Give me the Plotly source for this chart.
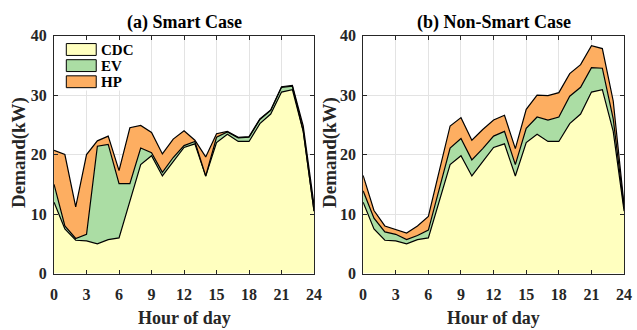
import plotly.graph_objects as go

# Hour of day, 0..24
hours = list(range(25))

# Base load (same in both cases), kW
cdc = [12.0, 7.5, 5.6, 5.5, 5.0, 5.7, 6.0, 12.0, 18.3, 19.8, 16.4, 18.8, 21.2,
       21.8, 16.4, 22.0, 23.4, 22.2, 22.2, 25.2, 26.8, 30.5, 30.9, 23.9, 10.5]

# Smart case: EV charging and heat pump demand, kW
ev_smart = [3.0, 0.5, 0.3, 1.1, 16.4, 16.0, 9.1, 3.1, 2.8, 0.5, 0.6, 0.7, 0.3,
            0.4, 0.0, 0.9, 0.4, 0.6, 0.7, 0.7, 0.6, 0.8, 0.6, 0.1, 0.0]
hp_smart = [5.7, 12.0, 5.3, 13.4, 0.9, 1.4, 2.2, 9.4, 3.8, 3.4, 3.1, 3.1, 2.5,
            0.2, 3.2, 0.6, 0.1, 0.1, 0.1, 0.1, 0.1, 0.1, 0.1, 0.8, 1.0]

# Non-smart case: EV charging and heat pump demand, kW
ev_non = [1.9, 1.8, 1.4, 1.1, 0.7, 0.7, 1.3, 2.2, 2.8, 2.9, 2.7, 2.2, 1.9,
          2.1, 1.9, 2.4, 2.9, 3.6, 4.1, 4.6, 4.5, 4.1, 3.6, 2.1, 0.5]
hp_non = [2.6, 1.3, 1.0, 0.8, 1.1, 1.6, 2.3, 3.0, 3.7, 3.5, 3.3, 3.2, 2.7,
          2.7, 2.7, 3.2, 3.7, 4.1, 4.1, 3.8, 3.8, 3.7, 3.3, 3.0, 0.5]

x_ticks = [0, 3, 6, 9, 12, 15, 18, 21, 24]
y_ticks = [0, 10, 20, 30, 40]
series_names = ["CDC", "EV", "HP"]
colors = ["#ffffbf", "#abdda4", "#fdae61"]
panel_titles = ["(a) Smart Case", "(b) Non-Smart Case"]

FONT = "Liberation Serif"
INK = "#262626"
W, H = 637, 330


def cumulative(layers):
    """Running sums of the stacked layers, bottom to top."""
    out, run = [], [0.0] * len(layers[0])
    for layer in layers:
        run = [a + b for a, b in zip(run, layer)]
        out.append(run)
    return out


fig = go.Figure()

panels = [
    ("x", "y", [cdc, ev_smart, hp_smart]),
    ("x2", "y2", [cdc, ev_non, hp_non]),
]
for xa, ya, layers in panels:
    tops = cumulative(layers)
    for i, (name, top, col) in enumerate(zip(series_names, tops, colors)):
        fig.add_trace(go.Scatter(
            x=hours, y=top, name=name, mode="lines",
            fill="tozeroy" if i == 0 else "tonexty", fillcolor=col,
            line=dict(color="black", width=1.2),
            xaxis=xa, yaxis=ya, showlegend=False,
            hoverinfo="skip",
        ))

# Plot-area placement in pixels
left_px = (51, 316)
right_px = (366, 632)
top_px, bottom_px = 29, 280
ydom = [1 - bottom_px / H, 1 - top_px / H]

axis_common = dict(
    showline=True, linecolor=INK, linewidth=1, mirror="ticks",
    ticks="inside", ticklen=4, tickcolor=INK,
    showgrid=True, gridcolor="#e3e3e3", gridwidth=1, zeroline=False,
    tickfont=dict(family=FONT, size=16, color=INK, weight="bold"),
)
xaxis_style = dict(range=[0, 24], tickvals=x_ticks, ticklabelstandoff=6,
                   **axis_common)
yaxis_style = dict(domain=ydom, range=[0, 40], tickvals=y_ticks,
                   ticklabelstandoff=3, **axis_common)

fig.update_layout(
    width=W, height=H,
    margin=dict(l=0, r=0, t=0, b=0),
    paper_bgcolor="white", plot_bgcolor="white",
    font=dict(family=FONT, color=INK),
    showlegend=False,
    xaxis=dict(domain=[left_px[0] / W, left_px[1] / W], anchor="y",
               **xaxis_style),
    yaxis=dict(anchor="x", **yaxis_style),
    xaxis2=dict(domain=[right_px[0] / W, right_px[1] / W], anchor="y2",
                **xaxis_style),
    yaxis2=dict(anchor="x2", **yaxis_style),
)


def px_x(p):
    return p / W


def px_y(p):
    return 1 - p / H


annotations = []
shapes = []
for (x0, x1), title in zip([left_px, right_px], panel_titles):
    cx = (x0 + x1) / 2 / W
    annotations.append(dict(
        text="<b>%s</b>" % title, x=cx, y=px_y(15), xref="paper",
        yref="paper", showarrow=False, xanchor="center", yanchor="middle",
        font=dict(family=FONT, size=18, color="black")))
    annotations.append(dict(
        text="<b>Hour of day</b>", x=cx, y=px_y(318), xref="paper",
        yref="paper", showarrow=False, xanchor="center", yanchor="middle",
        yshift=-8, font=dict(family=FONT, size=18, color=INK)))
for xp in (15, 332):
    annotations.append(dict(
        text="<b>Demand(kW)</b>", x=px_x(xp), y=px_y(152), xref="paper",
        yref="paper", showarrow=False, textangle=-90, xanchor="center",
        yanchor="middle", font=dict(family=FONT, size=19, color=INK)))

# Legend box drawn in the smart-case panel: patches with outline + labels
shapes.append(dict(type="rect", xref="paper", yref="paper",
                   x0=px_x(56), x1=px_x(136), y0=px_y(87), y1=px_y(34),
                   fillcolor="white", line=dict(width=0), layer="above"))
row_tops = [37.5, 54.5, 71.5]
for name, col, rt in zip(series_names, colors, row_tops):
    shapes.append(dict(type="rect", xref="paper", yref="paper",
                       x0=px_x(63.5), x1=px_x(94), y0=px_y(rt + 12.5),
                       y1=px_y(rt), fillcolor=col,
                       line=dict(color="black", width=1), layer="above"))
    annotations.append(dict(
        text="<b>%s</b>" % name, x=px_x(96.5), y=px_y(rt + 6.5),
        xref="paper", yref="paper", showarrow=False, xanchor="left",
        yanchor="middle", font=dict(family=FONT, size=15, color="black")))

fig.update_layout(annotations=annotations, shapes=shapes)

fig.write_html("out.html")
